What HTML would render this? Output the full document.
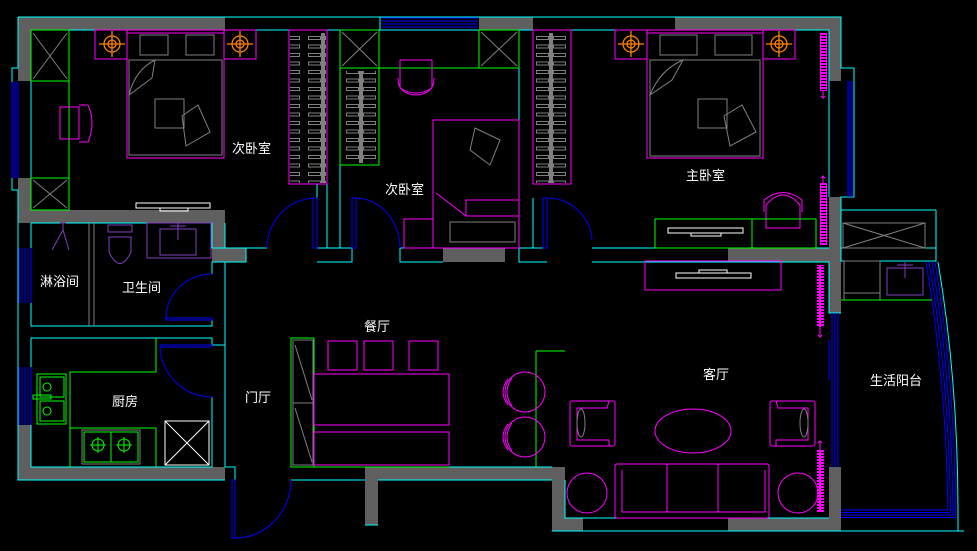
<!DOCTYPE html>
<html><head><meta charset="utf-8"><style>
html,body{margin:0;padding:0;background:#000;}
svg{display:block}
text{font-family:"Liberation Sans","Noto Sans CJK SC",sans-serif;font-size:13px;fill:#fff}
</style></head><body>
<svg width="977" height="551" viewBox="0 0 977 551" xmlns="http://www.w3.org/2000/svg">
<defs>
<pattern id="hang" width="38" height="8.5" patternUnits="userSpaceOnUse">
<rect x="4.5" y="2.5" width="12" height="3" fill="none" stroke="#808080" stroke-width="1"/>
<rect x="21.5" y="2.5" width="12" height="3" fill="none" stroke="#808080" stroke-width="1"/>
<rect x="17" y="0" width="4" height="8.5" fill="#808080"/>
</pattern>
<pattern id="curt" width="7" height="3" patternUnits="userSpaceOnUse">
<rect x="0" y="0" width="7" height="2" fill="#ff00ff"/>
<rect x="0" y="0" width="2" height="3" fill="#ff00ff"/>
</pattern>
</defs>
<g fill="#5f5f5f">
<rect x="18" y="17" width="207" height="13"/>
<rect x="479" y="17" width="54" height="13"/>
<rect x="675" y="17" width="166" height="13"/>
<rect x="18" y="17" width="13" height="64"/>
<rect x="18" y="178" width="13" height="45"/>
<rect x="18" y="210" width="207" height="13"/>
<rect x="212" y="210" width="13" height="52"/>
<rect x="212" y="248" width="34" height="14"/>
<rect x="18" y="425" width="13" height="55"/>
<rect x="18" y="467" width="207" height="13"/>
<rect x="829" y="17" width="12" height="64"/>
<rect x="829" y="197" width="12" height="116"/>
<rect x="443" y="248" width="62" height="14"/>
<rect x="728" y="248" width="113" height="14"/>
<rect x="829" y="467" width="12" height="64"/>
<rect x="365" y="467" width="200" height="13"/>
<rect x="365" y="467" width="13" height="58"/>
<rect x="552" y="467" width="13" height="64"/>
<rect x="552" y="518" width="31" height="13"/>
<rect x="728" y="518" width="113" height="13"/>
</g>
<g fill="none" stroke="#00ffff" stroke-width="1">
<path d="M18 17H841V68H854V197H841V210H936M18 17V68H12V190H18V480H225M31 30H829M31 30V210"/>
<path d="M380 17V30M380 17H479"/>
<path d="M31 223H212V248H267M225 248V223M246 248V262H225"/>
<path d="M31 223V326H212V318M212 274V262H225V345H212V338H31V467H212V397M225 345V467M225 467H235V480M291 467H552M291 480H365M378 480H552M365 525H378"/>
<path d="M317 184V248H352M327 184V248M317 262H352V248M327 248V198M340 30V248M400 248V262H443M400 248H443"/>
<path d="M519 30V248M533 30V184M533 248V198M519 248H543M547 262H519V248M592 248H829M592 262H829V313H841"/>
<path d="M829 30V197M565 480V518H829M552 531H964M841 210V261H936V210M841 248H936"/>
<path d="M938 262Q958 380 958 513V531"/>
</g>
<g fill="none" stroke="#0000ff" stroke-width="1">
<path d="M382 18H478M382 21H478M382 24H478M382 27H478"/>
<path d="M12 82V178M14 82V178M16 82V178M18 82V178"/>
<path d="M19 248V303M22 248V303M25 248V303M28 248V303M31 248V303"/>
<path d="M19 367V425M22 367V425M25 367V425M28 367V425M31 367V425"/>
<path d="M848 81V197M850 81V197M852 81V197"/>
<path d="M832 313V467M835 313V467M838 313V467M829 340V380"/>
<path d="M926 262Q946 380 948 510H841M929 262Q949 380 950.5 512.5H841M932 262Q952 380 953 515H841M935 262Q955 380 955.5 517.5H841"/>
<path d="M313 198H317V248H313ZM313 198A50 50 0 0 0 267 248"/>
<path d="M352 198H356V248H352ZM356 198A45 50 0 0 1 400 248"/>
<path d="M543 198H547V248H543ZM547 198A45 45 0 0 1 592 240"/>
<path d="M166 318H212V320H166ZM166 318A46 44 0 0 1 212 274"/>
<path d="M160 345H212V347H160ZM160 347A52 52 0 0 0 212 397"/>
<path d="M232 480H235V538H232ZM235 538A56 58 0 0 0 291 480"/>
</g>
<g fill="none" stroke="#00ff00">
<rect x="31" y="30" width="38" height="51"/><rect x="31" y="178" width="38" height="32"/>
<path d="M69 81V178M31 81H69"/>
</g>
<g stroke="#808080" fill="none">
<path d="M33 33L67 79M67 33L33 79M33 180L67 208M67 180L33 208"/>
<rect x="129" y="60" width="93" height="95"/>
<rect x="140" y="35" width="28" height="20"/><rect x="186" y="35" width="28" height="20"/>
<path d="M129 95Q135 70 155 60L152 78Z"/>
<rect x="155" y="99" width="29" height="29"/><path d="M182 116L198 105L210 132L186 146Z"/>
</g>
<g fill="none" stroke="#ff00ff">
<rect x="95" y="30" width="32" height="29"/><rect x="224" y="30" width="32" height="29"/>
<rect x="127" y="30" width="97" height="128"/><path d="M127 33H224"/>
<rect x="60" y="107" width="19" height="32"/><path d="M79 105H88Q96 122 88 142H79"/>
<rect x="289" y="30" width="38" height="154"/>
</g>
<rect x="290" y="33" width="36" height="150" fill="url(#hang)"/>
<g fill="none" stroke="#ff8000" stroke-width="1.3">
<circle cx="112" cy="44" r="8"/><circle cx="112" cy="44" r="4"/><path d="M99 44H125M112 31V57"/>
<circle cx="240" cy="44" r="8"/><circle cx="240" cy="44" r="4"/><path d="M227 44H253M240 31V57"/>
<circle cx="631" cy="44" r="8"/><circle cx="631" cy="44" r="4"/><path d="M618 44H644M631 31V57"/>
<circle cx="779" cy="44" r="8"/><circle cx="779" cy="44" r="4"/><path d="M766 44H792M779 31V57"/>
</g>
<g fill="none" stroke="#fff"><rect x="136" y="203" width="74" height="5"/><rect x="160" y="208" width="28" height="3"/></g>
<g fill="none" stroke="#00ff00">
<rect x="340" y="30" width="39" height="38"/><rect x="479" y="30" width="40" height="38"/>
<path d="M340 68H519"/><rect x="340" y="68" width="39" height="97"/>
</g>
<g stroke="#808080" fill="none"><path d="M342 32L377 66M377 32L342 66M481 32L517 66M517 32L481 66"/></g>
<rect x="341" y="71" width="37" height="92" fill="url(#hang)"/>
<g fill="none" stroke="#ff00ff">
<path d="M400 60H432V88Q416 98 400 88Z"/><path d="M398 78Q398 94 416 95Q434 94 434 78"/>
<rect x="433" y="120" width="86" height="128"/><path d="M436 193L466 216H519M466 216V200H519"/>
<rect x="404" y="219" width="29" height="29"/>
<rect x="533" y="30" width="38" height="154"/>
</g>
<g stroke="#808080" fill="none"><path d="M475 128L500 140L490 165L470 150ZM450 222H515V242H450Z"/></g>
<rect x="534" y="33" width="36" height="150" fill="url(#hang)"/>
<g fill="none" stroke="#ff00ff">
<rect x="615" y="30" width="32" height="29"/><rect x="763" y="30" width="32" height="29"/>
<rect x="647" y="30" width="116" height="128"/><path d="M647 33H763"/>
<path d="M766 205Q783 185 800 205V228H766Z"/><path d="M764 212V200Q783 185 802 200V212"/>
<rect x="645" y="261" width="136" height="29"/>
</g>
<g stroke="#808080" fill="none">
<rect x="650" y="60" width="110" height="96"/><rect x="660" y="35" width="37" height="20"/><rect x="715" y="35" width="37" height="20"/>
<path d="M650 95Q660 70 683 60L672 80Z"/><rect x="698" y="99" width="29" height="29"/><path d="M724 116L742 105L756 132L730 146Z"/>
<rect x="843" y="223" width="82" height="25"/><path d="M843 223L925 248M925 223L843 248"/>
<rect x="844" y="261" width="36" height="39"/><path d="M844 293H880"/>
</g>
<g fill="none" stroke="#00ff00"><rect x="655" y="219" width="161" height="29"/><path d="M752 219V248M841 300H932"/></g>
<g fill="none" stroke="#fff"><rect x="668" y="228" width="75" height="5"/><rect x="691" y="233" width="30" height="3"/><rect x="676" y="273" width="75" height="5"/><rect x="699" y="270" width="28" height="3"/></g>
<g>
<rect x="820" y="33" width="7" height="58" fill="url(#curt)"/><rect x="820" y="183" width="7" height="62" fill="url(#curt)"/>
<rect x="817" y="265" width="7" height="62" fill="url(#curt)"/><rect x="817" y="450" width="7" height="62" fill="url(#curt)"/>
</g>
<g fill="none" stroke="#ff00ff" stroke-width="1">
<path d="M823 91V98M821 96L823 98L825 96M823 183V176M821 178L823 176L825 178M820 327V337M818 335L820 337L822 335M820 450V441M818 443L820 441L822 443"/>
</g>
<g fill="none" stroke="#8040c0">
<rect x="147" y="223" width="64" height="35"/><rect x="160" y="229" width="36" height="26"/><path d="M178 223V240M170 226H186"/>
<path d="M60 223H66M63 223V230L52 250M63 230L69 250"/>
<path d="M108 225H132V232H108ZM109 237H131V252Q120 275 109 252Z"/>
<rect x="887" y="268" width="36" height="27"/><path d="M905 262V278M897 265H913"/>
</g>
<g stroke="#808080" fill="none"><path d="M89 223V326M94 223V326"/></g>
<g fill="none" stroke="#00ff00">
<path d="M156 338V372H70V467M70 428H156V467"/>
<rect x="37" y="374" width="29" height="50"/><rect x="40" y="377" width="24" height="20"/><rect x="40" y="401" width="24" height="20"/>
<rect x="33" y="395" width="18" height="4"/>
<circle cx="47" cy="387" r="4"/><circle cx="47" cy="411" r="4"/>
<rect x="84" y="432" width="54" height="30"/><path d="M111 432V462"/>
<circle cx="98" cy="445" r="6"/><circle cx="124" cy="445" r="6"/><path d="M90 445H106M98 437V453M116 445H132M124 437V453"/>
</g>
<rect x="82" y="430" width="58" height="34" fill="none" stroke="#808080"/>
<g fill="none" stroke="#fff"><rect x="165" y="421" width="44" height="44"/><path d="M165 421L209 465M209 421L165 465"/></g>
<g fill="none" stroke="#00ff00"><rect x="291" y="338" width="23" height="129"/><path d="M314 467H449M536 351H565M536 351V467"/></g>
<g fill="none" stroke="#808080"><rect x="293" y="340" width="20" height="125"/><path d="M293 403H313M295 345L312 400M295 408L312 462"/></g>
<g fill="none" stroke="#ff00ff">
<rect x="328" y="341" width="29" height="29"/><rect x="364" y="341" width="29" height="29"/><rect x="409" y="341" width="29" height="29"/>
<rect x="314" y="374" width="135" height="51"/><rect x="314" y="432" width="135" height="33"/>
<circle cx="525" cy="392" r="20"/><circle cx="525" cy="437" r="20"/>
<path d="M512 378Q502 392 512 406M508 379Q498 392 508 405M512 423Q502 437 512 451M508 424Q498 437 508 450"/>
<rect x="570" y="401" width="45" height="45" rx="2"/><path d="M577 408H607L609 401M577 408V440H609L609 446"/>
<rect x="770" y="401" width="45" height="45" rx="2"/><path d="M808 408H778L776 401M808 408V440H776L776 446"/>
<ellipse cx="693" cy="431" rx="38" ry="22"/>
<rect x="615" y="464" width="154" height="54" rx="2"/><path d="M622 470V512H765V470M667 464V512M718 464V512"/>
<circle cx="587" cy="493" r="20"/><circle cx="798" cy="493" r="20"/>
</g>
<g fill="none" stroke="#808080"><ellipse cx="581" cy="423" rx="4" ry="14"/><ellipse cx="804" cy="423" rx="4" ry="14"/></g>
<text x="232" y="153">次卧室</text>
<text x="385" y="194">次卧室</text>
<text x="686" y="180">主卧室</text>
<text x="40" y="286">淋浴间</text>
<text x="122" y="292">卫生间</text>
<text x="112" y="406">厨房</text>
<text x="245" y="402">门厅</text>
<text x="364" y="331">餐厅</text>
<text x="703" y="379">客厅</text>
<text x="870" y="385">生活阳台</text>
</svg>
</body></html>
